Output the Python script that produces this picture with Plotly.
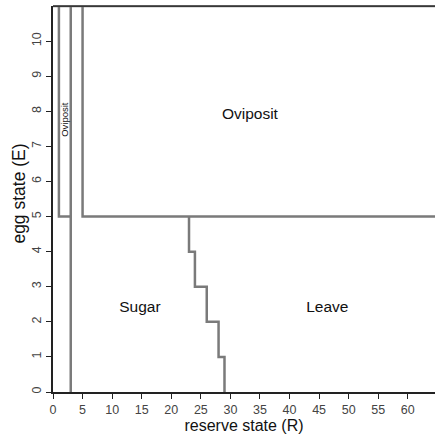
import plotly.graph_objects as go

# Decision boundaries in (reserve R, egg E) state space
left_ovi_R = [1, 1, 3]
left_ovi_E = [11, 5, 5]
sugar_wall_R = [3, 3]
sugar_wall_E = [0, 11]
ovi_R = [5, 5, 64.6]
ovi_E = [11, 5, 5]
leave_R = [23, 23, 24, 24, 26, 26, 28, 28, 29, 29]
leave_E = [5, 4, 4, 3, 3, 2, 2, 1, 1, 0]
top_R = [0, 64.6]
top_E = [11, 11]

# Region labels
region_names = ["Oviposit", "Sugar", "Leave"]
region_R = [33.3, 14.7, 46.4]
region_E = [7.9, 2.4, 2.4]

x_ticks = list(range(0, 65, 5))
y_ticks = list(range(0, 11))

FONT = "Liberation Sans, Arial"
line_style = dict(color="#7a7a7a", width=2.5)

fig = go.Figure()
for xs, ys in [(left_ovi_R, left_ovi_E), (sugar_wall_R, sugar_wall_E),
               (ovi_R, ovi_E), (leave_R, leave_E), (top_R, top_E)]:
    fig.add_trace(go.Scatter(x=xs, y=ys, mode="lines", line=line_style,
                             hoverinfo="skip", showlegend=False))

fig.add_trace(go.Scatter(x=region_R, y=region_E, mode="text", text=region_names,
                         textfont=dict(family=FONT, size=15.5, color="#111"),
                         hoverinfo="skip", showlegend=False))

# Narrow oviposition band between R=1 and R=3
fig.add_annotation(x=2.05, y=7.76, text="Oviposit", textangle=-90, showarrow=False,
                   font=dict(family=FONT, size=9.5, color="#111"))

# Y axis title
fig.add_annotation(xref="paper", yref="paper", x=-0.088, y=0.515, xanchor="center",
                   yanchor="middle", text="egg state (E)", textangle=-90,
                   showarrow=False, font=dict(family=FONT, size=17.5, color="#111"))

# Top frame edge
fig.add_shape(type="line", xref="paper", yref="paper", x0=0, x1=1, y0=1, y1=1,
              line=dict(color="#222", width=1.5))

axis_font = dict(family=FONT, size=12.5, color="#444")
fig.update_xaxes(range=[0, 64.6], tickvals=x_ticks, ticks="outside", ticklen=5,
                 tickcolor="#222", showline=True, linecolor="#222", linewidth=1.5,
                 showgrid=False, zeroline=False, tickfont=axis_font,
                 title=dict(text="reserve state (R)", standoff=2,
                            font=dict(family=FONT, size=16, color="#111")))
fig.update_yaxes(range=[0, 11], tickvals=y_ticks, ticks="outside", ticklen=5,
                 tickcolor="#222", showline=True, linecolor="#222", linewidth=1.5,
                 showgrid=False, zeroline=False, tickfont=axis_font, tickangle=-90)

fig.update_layout(width=435, height=438, margin=dict(l=53, r=0, t=6, b=46),
                  plot_bgcolor="white", paper_bgcolor="white")

fig.write_html("out.html")
